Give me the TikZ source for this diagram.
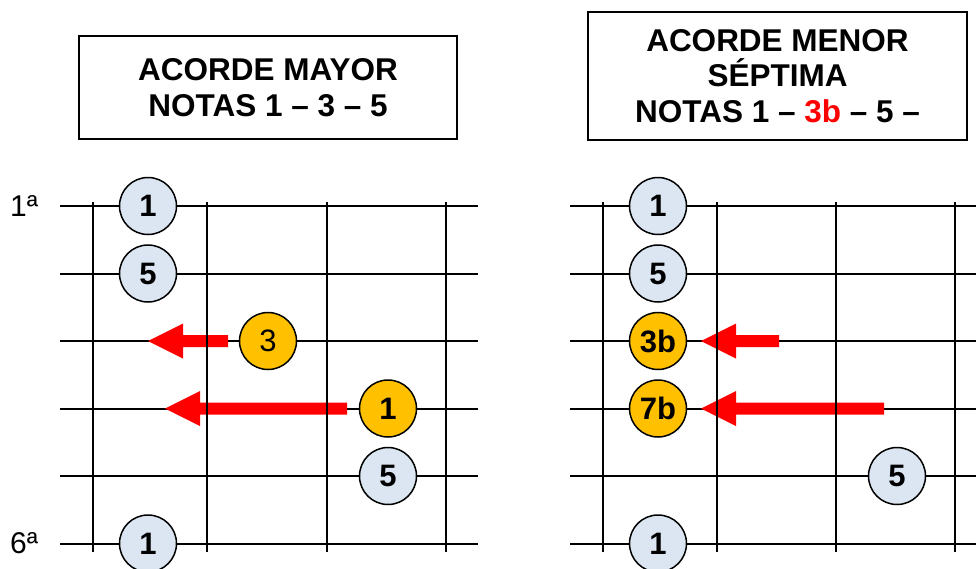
\documentclass[tikz,border=0pt]{standalone}
\usepackage{fontspec}
\setmainfont{Liberation Sans}
\definecolor{notablue}{HTML}{DCE6F2}
\definecolor{notaorange}{HTML}{FFC000}
\definecolor{arrowred}{HTML}{FF0000}
\newcommand{\fatarrowX}[3]{%
  \fill[arrowred] (#1,#3) -- (#1+35,#3-17.5) -- (#1+35,#3-6) -- (#2,#3-6)
    -- (#2,#3+6) -- (#1+35,#3+6) -- (#1+35,#3+17.5) -- cycle;}
\tikzset{
  strline/.style={line width=2pt, black},
  fretline/.style={line width=2pt, black},
  nota/.style={circle, draw=black, line width=1.5pt, minimum size=57pt, inner sep=0pt,
    font=\fontsize{31}{31}\selectfont\bfseries},
  bluenote/.style={nota, fill=notablue},
  orangenote/.style={nota, fill=notaorange},
  titlebox/.style={draw=black, line width=1.5pt, inner sep=0pt, align=center,
    font=\fontsize{31.5}{35.5}\selectfont\bfseries},
  strlabel/.style={anchor=west, inner sep=0pt, font=\fontsize{30}{30}\selectfont},
}
\begin{document}
\begin{tikzpicture}[x=1pt, y=-1pt]
\useasboundingbox (0,0) rectangle (976,568);
\clip (0,0) rectangle (976,568);
% titles
\node[titlebox, minimum width=378pt, minimum height=103pt] (t1) at (268,87.5)
  {ACORDE MAYOR\\NOTAS 1 – 3 – 5};
\node[titlebox, minimum width=379pt, minimum height=128pt] (t2) at (777.5,76)
  {ACORDE MENOR\\SÉPTIMA\\NOTAS 1 – \textcolor{arrowred}{3b} – 5 –};
% strings
\foreach \y in {206,273.5,341,408.5,476,543.5} {
  \draw[strline] (60,\y) -- (478,\y);
  \draw[strline] (570,\y) -- (976,\y);
}
% arrows
\fatarrowX{148}{228}{341}
\fatarrowX{165}{347}{408.5}
\fatarrowX{701}{779}{341}
\fatarrowX{701}{884}{408.5}
% frets
\foreach \x in {93,207,327,446,603,717,836,955} {
  \draw[fretline] (\x,202) -- (\x,552);
}
% left notes
\node[bluenote] (l1) at (148,206) {1};
\node[bluenote] (l2) at (148,273.5) {5};
\node[orangenote, font=\fontsize{31}{31}\selectfont] (l3) at (268,341) {3};
\node[orangenote] (l4) at (388,408.5) {1};
\node[bluenote] (l5) at (388,476) {5};
\node[bluenote] (l6) at (148,543.5) {1};
% right notes
\node[bluenote] (r1) at (658,206) {1};
\node[bluenote] (r2) at (658,273.5) {5};
\node[orangenote] (r3) at (658,341) {3b};
\node[orangenote] (r4) at (658,408.5) {7b};
\node[bluenote] (r5) at (897,476) {5};
\node[bluenote] (r6) at (658,543.5) {1};
% string labels
\node[strlabel] (s1) at (10,206) {1ª};
\node[strlabel] (s6) at (10,543.5) {6ª};
\end{tikzpicture}
\end{document}
